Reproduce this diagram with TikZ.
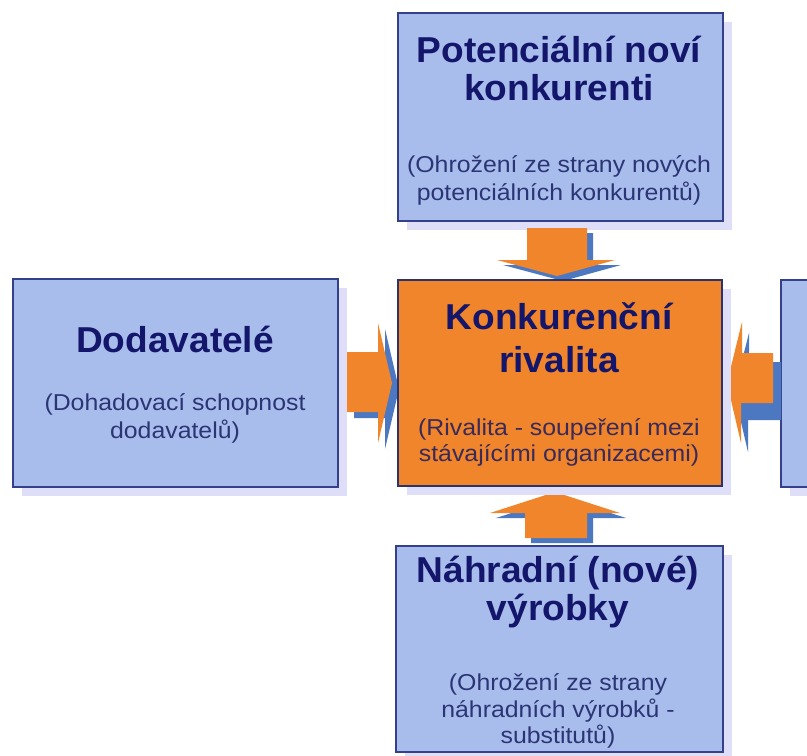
\documentclass[tikz,border=0pt]{standalone}
\usepackage{fontspec}
\setmainfont{Liberation Sans}
\newfontfamily\titlefont[FakeStretch=1.03]{Liberation Sans}
\newfontfamily\subfont[FakeStretch=1.08]{Liberation Sans}
\usetikzlibrary{shadows}
\definecolor{boxblue}{HTML}{A9BDEC}
\definecolor{boxline}{HTML}{34408A}
\definecolor{shadowc}{HTML}{DEDEF8}
\definecolor{orangec}{HTML}{F0852B}
\definecolor{arrblue}{HTML}{4C78C2}
\definecolor{navyc}{HTML}{13166A}
\definecolor{subc}{HTML}{2B3575}
\definecolor{subo}{HTML}{3A2A5A}
\tikzset{
  boxbase/.style={rectangle, anchor=north west, line width=1.6pt, inner sep=0pt,
    general shadow={fill=shadowc, shadow xshift=9pt, shadow yshift=-9pt}},
  bluebox/.style={boxbase, draw=boxline, fill=boxblue},
  orangebox/.style={boxbase, draw=boxline!80!black, fill=orangec},
  ttl/.style={font=\titlefont\bfseries\fontsize{36}{40}\selectfont, text=navyc, anchor=base, inner sep=0pt},
  sub/.style={font=\subfont\fontsize{23}{26}\selectfont, text=subc, anchor=base, inner sep=0pt},
  subor/.style={sub, text=subo},
  arrfront/.style={fill=orangec},
  arrback/.style={fill=arrblue},
}
\begin{document}
\begin{tikzpicture}[x=1pt,y=-1pt]
\useasboundingbox (0,0) rectangle (807,756);
\clip (0,0) rectangle (807,756);
\fill[white] (0,0) rectangle (807,756);

% boxes
\node[bluebox, minimum width=325pt, minimum height=208pt] (top) at (397,12) {};
\node[bluebox, minimum width=325pt, minimum height=208pt] (left) at (12,278) {};
\node[bluebox, minimum width=325pt, minimum height=207pt] (right) at (780,279) {};
\node[bluebox, minimum width=327pt, minimum height=206pt] (bottom) at (395,545) {};

% arrows: left (pointing right)
\fill[arrback] (354,358) -- (385,358) -- (385,329) -- (399,389) -- (385,449) -- (385,418) -- (354,418) -- cycle;
\fill[arrfront] (347,352) -- (378,352) -- (378,323) -- (392,383) -- (378,443) -- (378,412) -- (347,412) -- cycle;
% right (pointing left)
\fill[arrback] (781,362) -- (749,362) -- (749,333) -- (734,392) -- (748,452) -- (748,420) -- (781,420) -- cycle;
\fill[arrfront] (773,353) -- (742,353) -- (742,322) -- (727,383) -- (741,443) -- (741,403) -- (773,403) -- cycle;
% top (pointing down)
\fill[arrback] (533,233) -- (593,233) -- (593,265) -- (621,265) -- (563,281) -- (503,265) -- (533,265) -- cycle;
\fill[arrfront] (527,228) -- (587,228) -- (587,260) -- (615,260) -- (557,276) -- (497,260) -- (527,260) -- cycle;
% bottom (pointing up)
\fill[arrback] (531,543) -- (531,518) -- (496,518) -- (561,497) -- (626,518) -- (593,518) -- (593,543) -- cycle;
\fill[arrfront] (525,538) -- (525,513) -- (490,513) -- (555,492) -- (620,513) -- (587,513) -- (587,538) -- cycle;

% center box
\node[orangebox, minimum width=324pt, minimum height=206pt] (center) at (397,279) {};

% texts: top
\node[ttl] (t1) at (559,62) {Potenciální noví};
\node[ttl] (t2) at (559,100) {konkurenti};
\node[sub] (t3) at (559,172) {(Ohrožení ze strany nových};
\node[sub] (t4) at (559,200) {potenciálních konkurentů)};
% left
\node[ttl] (l1) at (175,352) {Dodavatelé};
\node[sub] (l2) at (175,410) {(Dohadovací schopnost};
\node[sub] (l3) at (175,438) {dodavatelů)};
% center
\node[ttl] (c1) at (559,329) {Konkurenční};
\node[ttl] (c2) at (559,372) {rivalita};
\node[subor] (c3) at (559,435) {(Rivalita - soupeření mezi};
\node[subor] (c4) at (559,461) {stávajícími organizacemi)};
% bottom
\node[ttl] (b1) at (558,582) {Náhradní (nové)};
\node[ttl] (b2) at (558,620) {výrobky};
\node[sub] (b3) at (558,690) {(Ohrožení ze strany};
\node[sub] (b4) at (558,717) {náhradních výrobků -};
\node[sub] (b5) at (558,743) {substitutů)};
\end{tikzpicture}
\end{document}
